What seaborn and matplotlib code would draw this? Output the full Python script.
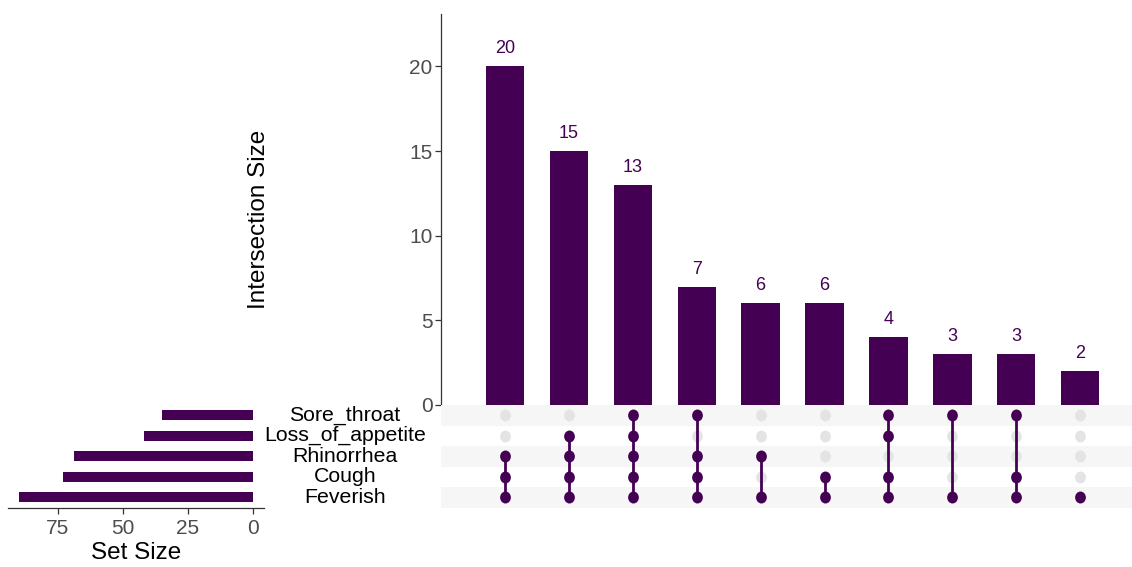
import matplotlib
matplotlib.use("Agg")
import matplotlib.pyplot as plt
import matplotlib.transforms as mtransforms
from matplotlib.path import Path
import seaborn as sns
import pandas as pd

# Sets, top to bottom in the matrix
set_names = ["Sore_throat", "Loss_of_appetite", "Rhinorrhea", "Cough", "Feverish"]
set_sizes = [35, 42, 69, 73, 90]

# Intersections, in order of decreasing size
intersection_sizes = [20, 15, 13, 7, 6, 6, 4, 3, 3, 2]
intersection_members = [
    ["Rhinorrhea", "Cough", "Feverish"],
    ["Loss_of_appetite", "Rhinorrhea", "Cough", "Feverish"],
    ["Sore_throat", "Loss_of_appetite", "Rhinorrhea", "Cough", "Feverish"],
    ["Sore_throat", "Rhinorrhea", "Cough", "Feverish"],
    ["Rhinorrhea", "Feverish"],
    ["Cough", "Feverish"],
    ["Sore_throat", "Loss_of_appetite", "Cough", "Feverish"],
    ["Sore_throat", "Feverish"],
    ["Sore_throat", "Cough", "Feverish"],
    ["Feverish"],
]

BAR = "#440154"
TICK_GREY = "#4d4d4d"
W, H = 1132, 567

sns.set_theme(style="white")
plt.rcParams["font.family"] = ["Liberation Sans", "DejaVu Sans"]

fig = plt.figure(figsize=(W / 100, H / 100), dpi=100)


def px_axes(x0, y0, x1, y1):
    return fig.add_axes([x0 / W, 1 - y1 / H, (x1 - x0) / W, (y1 - y0) / H])


ax_bar = px_axes(441, 14, 1132, 405)
ax_mat = px_axes(441, 405, 1132, 507.5)
ax_set = px_axes(8, 405, 264, 507.5)

n_int = len(intersection_sizes)
xlim = (-1.0, 9.81)

# slightly tall oval dot marker for the matrix
oval = Path(Path.unit_circle().vertices * [0.9, 1.0], Path.unit_circle().codes)

# --- intersection size bars ---
df_int = pd.DataFrame({"idx": [str(i) for i in range(n_int)], "size": intersection_sizes})
sns.barplot(data=df_int, x="idx", y="size", color=BAR, width=0.6, saturation=1,
            ax=ax_bar, edgecolor="none")
for i, v in enumerate(intersection_sizes):
    ax_bar.annotate(str(v), (i, v), xytext=(0, 9), textcoords="offset pixels",
                    ha="center", va="bottom", color=BAR, fontsize=13)
ax_bar.set_xlim(*xlim)
ax_bar.set_ylim(0, 23.1)
ax_bar.set_yticks([0, 5, 10, 15, 20])
ax_bar.set_xticks([])
ax_bar.set_xlabel("")
ax_bar.set_ylabel("")
for s in ["top", "right", "bottom"]:
    ax_bar.spines[s].set_visible(False)
ax_bar.spines["left"].set_color("#333333")
ax_bar.spines["left"].set_linewidth(0.9)
ax_bar.tick_params(axis="y", which="both", left=True, length=4, width=0.9,
                   color="#333333", labelsize=15, labelcolor=TICK_GREY, pad=2)
fig.text(259 / W, 1 - 219 / H, "Intersection Size", rotation=90, ha="center",
         va="center", fontsize=17.5, color="black")

# --- matrix ---
n_set = len(set_names)
for r in range(n_set):
    if r % 2 == 0:
        ax_mat.axhspan(r - 0.5, r + 0.5, color="#f6f6f6", lw=0, zorder=0)

rows = []
for c, members in enumerate(intersection_members):
    for r, name in enumerate(set_names):
        rows.append({"col": c, "row": r, "active": name in members})
df_mat = pd.DataFrame(rows)

sns.scatterplot(data=df_mat[~df_mat["active"]], x="col", y="row", color="#e4e4e4",
                s=74, marker=oval, linewidth=0, ax=ax_mat, zorder=1, legend=False)
for c, members in enumerate(intersection_members):
    idx = [set_names.index(m) for m in members]
    if len(idx) > 1:
        ax_mat.vlines(c, min(idx), max(idx), color=BAR, lw=2.0, zorder=2)
sns.scatterplot(data=df_mat[df_mat["active"]], x="col", y="row", color=BAR,
                s=74, marker=oval, linewidth=0, ax=ax_mat, zorder=3, legend=False)
ax_mat.set_xlim(*xlim)
ax_mat.set_ylim(n_set - 0.5, -0.5)
ax_mat.set_xticks([])
ax_mat.set_yticks([])
ax_mat.set_xlabel("")
ax_mat.set_ylabel("")
for s in ax_mat.spines.values():
    s.set_visible(False)

# set labels between the two panels
trans = mtransforms.blended_transform_factory(fig.transFigure, ax_mat.transData)
for r, name in enumerate(set_names):
    fig.text(345 / W, r, name, transform=trans, ha="center", va="center",
             fontsize=15.3, color="black")

# --- set size bars ---
df_set = pd.DataFrame({"name": set_names, "size": set_sizes})
sns.barplot(data=df_set, x="size", y="name", orient="h", color=BAR, width=0.5,
            saturation=1, ax=ax_set, edgecolor="none")
ax_set.set_xlim(94.2, -4.2)
ax_set.set_ylim(n_set - 0.5, -0.5)
ax_set.set_xticks([0, 25, 50, 75])
ax_set.set_yticks([])
ax_set.set_ylabel("")
ax_set.set_xlabel("")
for s in ["top", "right", "left"]:
    ax_set.spines[s].set_visible(False)
ax_set.spines["bottom"].set_color("#333333")
ax_set.spines["bottom"].set_linewidth(0.9)
ax_set.tick_params(axis="x", which="both", bottom=True, length=4, width=0.9,
                   color="#333333", labelsize=15, labelcolor=TICK_GREY, pad=4.5)
fig.text(136 / W, 1 - 553 / H, "Set Size", ha="center", va="center",
         fontsize=17.5, color="black")

fig.savefig("out.png", dpi=100)
